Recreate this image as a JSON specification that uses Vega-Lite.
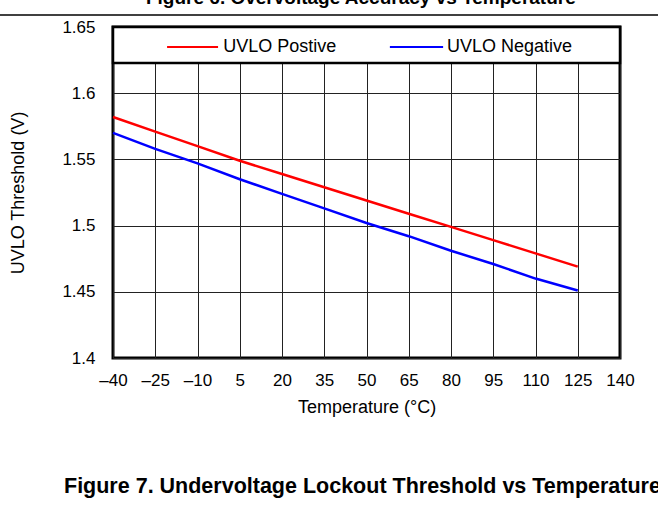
{
  "$schema": "https://vega.github.io/schema/vega-lite/v6.json",
  "width": 507,
  "height": 331,
  "autosize": {"type": "none"},
  "padding": {"left": 113, "top": 27, "right": 38, "bottom": 150},
  "background": "white",
  "title": {
    "text": "Figure 7. Undervoltage Lockout Threshold vs Temperature",
    "orient": "bottom",
    "anchor": "start",
    "frame": "group",
    "dx": -49,
    "offset": 60,
    "fontSize": 21.5,
    "fontWeight": "bold",
    "font": "Liberation Sans",
    "color": "black"
  },
  "config": {
    "font": "Liberation Sans",
    "view": {"stroke": "black", "strokeWidth": 3},
    "axis": {
      "domain": false,
      "ticks": false,
      "grid": true,
      "gridColor": "#222222",
      "gridWidth": 1,
      "gridOpacity": 1,
      "labelFontSize": 17,
      "labelColor": "black",
      "labelFont": "Liberation Sans",
      "labelOverlap": false,
      "labelFlush": false,
      "labelBound": false,
      "titleFontSize": 18,
      "titleFontWeight": "normal",
      "titleColor": "black",
      "titleFont": "Liberation Sans"
    }
  },
  "datasets": {
    "series": [
      {"x": -40, "y": 1.582, "s": "UVLO Postive"},
      {"x": -25, "y": 1.571, "s": "UVLO Postive"},
      {"x": -10, "y": 1.560, "s": "UVLO Postive"},
      {"x": 5, "y": 1.549, "s": "UVLO Postive"},
      {"x": 20, "y": 1.539, "s": "UVLO Postive"},
      {"x": 35, "y": 1.529, "s": "UVLO Postive"},
      {"x": 50, "y": 1.519, "s": "UVLO Postive"},
      {"x": 65, "y": 1.509, "s": "UVLO Postive"},
      {"x": 80, "y": 1.499, "s": "UVLO Postive"},
      {"x": 95, "y": 1.489, "s": "UVLO Postive"},
      {"x": 110, "y": 1.479, "s": "UVLO Postive"},
      {"x": 125, "y": 1.469, "s": "UVLO Postive"},
      {"x": -40, "y": 1.570, "s": "UVLO Negative"},
      {"x": -25, "y": 1.558, "s": "UVLO Negative"},
      {"x": -10, "y": 1.547, "s": "UVLO Negative"},
      {"x": 5, "y": 1.535, "s": "UVLO Negative"},
      {"x": 20, "y": 1.524, "s": "UVLO Negative"},
      {"x": 35, "y": 1.513, "s": "UVLO Negative"},
      {"x": 50, "y": 1.502, "s": "UVLO Negative"},
      {"x": 65, "y": 1.492, "s": "UVLO Negative"},
      {"x": 80, "y": 1.481, "s": "UVLO Negative"},
      {"x": 95, "y": 1.471, "s": "UVLO Negative"},
      {"x": 110, "y": 1.460, "s": "UVLO Negative"},
      {"x": 125, "y": 1.451, "s": "UVLO Negative"}
    ],
    "box": [{"x": -40, "x2": 140, "y": 1.6228, "y2": 1.65}],
    "legendLines": [
      {"x": -20.8, "x2": -2.7, "y": 1.6349, "s": "UVLO Postive"},
      {"x": 58.3, "x2": 77.2, "y": 1.6349, "s": "UVLO Negative"}
    ],
    "legendText": [
      {"x": -0.9, "y": 1.6349, "t": "UVLO Postive"},
      {"x": 78.6, "y": 1.6349, "t": "UVLO Negative"}
    ],
    "topRule": [{"x": -90, "x2": 170, "y": 1.6591}],
    "topText": [{"x": 48, "y": 1.6672, "t": "Figure 6. Overvoltage Accuracy vs Temperature"}]
  },
  "encoding": {
    "x": {
      "field": "x",
      "type": "quantitative",
      "scale": {"domain": [-40, 140], "nice": false, "zero": false},
      "axis": {
        "title": "Temperature (°C)",
        "values": [-40, -25, -10, 5, 20, 35, 50, 65, 80, 95, 110, 125, 140],
        "labelExpr": "datum.value < 0 ? '–' + abs(datum.value) : '' + datum.value",
        "labelPadding": 14,
        "titlePadding": 10
      }
    },
    "y": {
      "field": "y",
      "type": "quantitative",
      "scale": {"domain": [1.4, 1.65], "nice": false, "zero": false},
      "axis": {
        "title": "UVLO Threshold (V)",
        "values": [1.4, 1.45, 1.5, 1.55, 1.6, 1.65],
        "format": "~g",
        "labelPadding": 18,
        "titlePadding": 34
      }
    }
  },
  "layer": [
    {
      "data": {"name": "box"},
      "mark": {"type": "rect", "fill": "white", "stroke": "black", "strokeWidth": 2.5},
      "encoding": {"x2": {"field": "x2"}, "y2": {"field": "y2"}}
    },
    {
      "data": {"name": "series"},
      "mark": {"type": "line", "strokeWidth": 2.5},
      "encoding": {
        "color": {
          "field": "s",
          "type": "nominal",
          "scale": {"domain": ["UVLO Postive", "UVLO Negative"], "range": ["#ff0000", "#0000ff"]},
          "legend": null
        }
      }
    },
    {
      "data": {"name": "legendLines"},
      "mark": {"type": "rule", "strokeWidth": 2},
      "encoding": {
        "x2": {"field": "x2"},
        "color": {
          "field": "s",
          "type": "nominal",
          "scale": {"domain": ["UVLO Postive", "UVLO Negative"], "range": ["#ff0000", "#0000ff"]},
          "legend": null
        }
      }
    },
    {
      "data": {"name": "legendText"},
      "mark": {"type": "text", "align": "left", "baseline": "middle", "fontSize": 18, "color": "black"},
      "encoding": {"text": {"field": "t"}}
    },
    {
      "data": {"name": "topRule"},
      "mark": {"type": "rule", "strokeWidth": 1.5, "color": "black"},
      "encoding": {"x2": {"field": "x2"}}
    },
    {
      "data": {"name": "topText"},
      "mark": {"type": "text", "align": "center", "baseline": "alphabetic", "fontSize": 19, "fontWeight": "bold", "color": "black"},
      "encoding": {"text": {"field": "t"}}
    }
  ]
}
